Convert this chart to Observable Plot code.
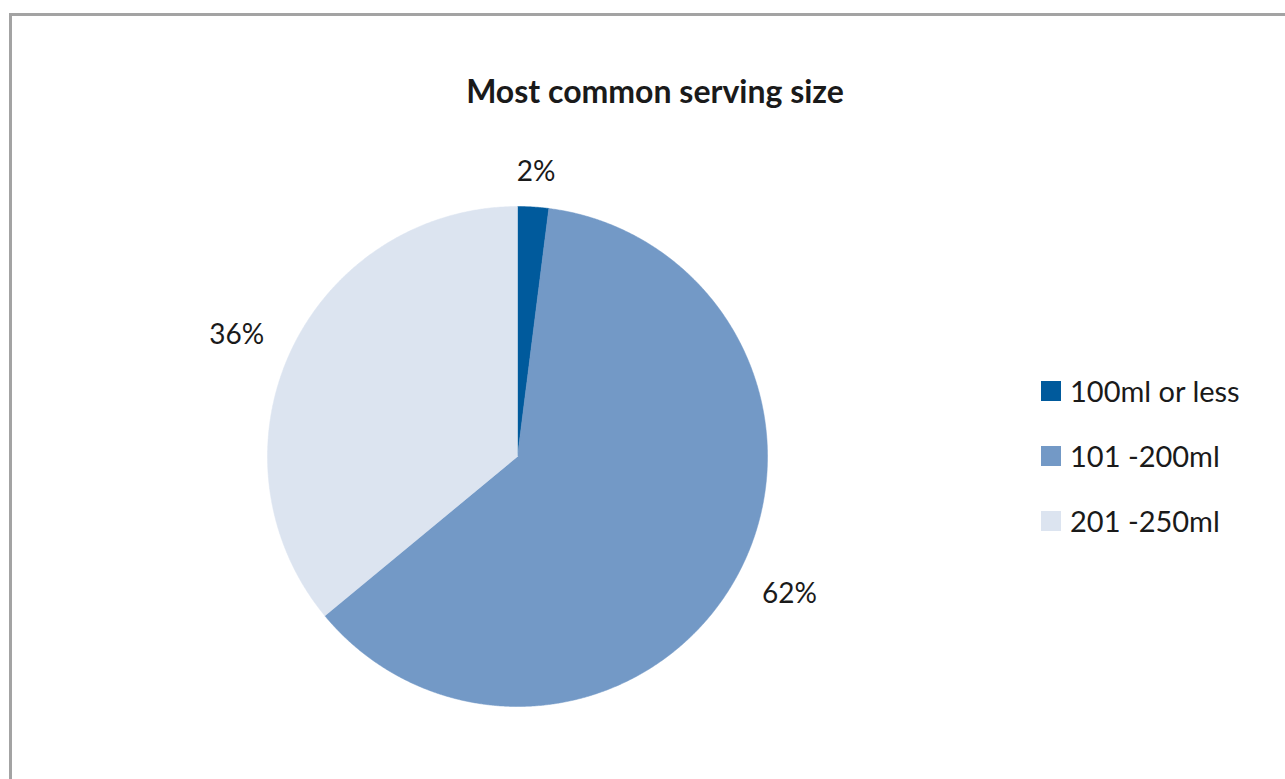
<!DOCTYPE html>
<html>
<head>
<meta charset="utf-8">
<script src="https://cdn.jsdelivr.net/npm/d3@7"></script>
<script src="https://cdn.jsdelivr.net/npm/@observablehq/plot@0.6"></script>
<style>
  html, body { margin: 0; padding: 0; background: #fff; }
  #wrap { position: relative; width: 1285px; height: 779px; overflow: hidden; font-family: Lato, "Open Sans", sans-serif; color: #1a1a1a; }
  #frame { position: absolute; left: 9px; top: 13px; width: 1400px; height: 900px; border-left: 3px solid #a3a3a3; border-top: 3px solid #a3a3a3; box-sizing: border-box; }
  #title { position: absolute; left: 0; width: 1310px; top: 75px; line-height: 32px; text-align: center; font-weight: bold; font-size: 32px; }
  #chart { position: absolute; left: 0; top: 0; }
  #legend { position: absolute; left: 1041px; top: 358px; }
  .item { display: flex; align-items: center; height: 65px; font-size: 29px; }
  .sw { width: 20px; height: 20px; margin-right: 9px; }
</style>
</head>
<body>
<div id="wrap">
  <div id="frame"></div>
  <div id="chart"></div>
  <div id="title">Most common serving size</div>
  <div id="legend"></div>
</div>
<script>
const categories = ["100ml or less", "101 -200ml", "201 -250ml"];
const values = [2, 62, 36];
const colors = ["#005a9c", "#7399c6", "#dce4f0"];
const labels = ["2%", "62%", "36%"];

const slices = d3.pie().sort(null).value(d => d.value)(
  categories.map((c, i) => ({category: c, value: values[i], label: labels[i]}))
);

// polygon outline of each slice in unit coordinates (angle 0 at top, clockwise)
const pts = [];
slices.forEach(s => {
  const c = s.data.category;
  pts.push({category: c, x: 0, y: 0});
  const n = Math.max(4, Math.ceil((s.endAngle - s.startAngle) / 0.005));
  for (let k = 0; k <= n; k++) {
    const a = s.startAngle + (s.endAngle - s.startAngle) * k / n;
    pts.push({category: c, x: Math.sin(a), y: Math.cos(a)});
  }
  pts.push({category: c, x: 0, y: 0});
});

const R = 250;
const labelPts = slices.map(s => {
  const a = (s.startAngle + s.endAngle) / 2;
  const dx = Math.sin(a), dy = Math.cos(a);
  const hw = s.data.label.length * 13 / R, hh = 14 / R;
  const r = 1.085;
  return {label: s.data.label, x: dx * r + dx * hw, y: dy * r + dy * hh};
});

const plot = Plot.plot({
  width: 1285,
  height: 779,
  marginLeft: 267,
  marginRight: 1285 - 767,
  marginTop: 206,
  marginBottom: 779 - 706,
  x: {domain: [-1, 1], axis: null},
  y: {domain: [-1, 1], axis: null},
  color: {domain: categories, range: colors},
  style: {background: "transparent", overflow: "visible"},
  marks: [
    Plot.line(pts, {x: "x", y: "y", z: "category", fill: "category", stroke: "category", strokeWidth: 0.5, curve: "linear-closed"}),
    Plot.text(labelPts, {x: "x", y: "y", text: "label", fontSize: 28, fill: "#1a1a1a", fontFamily: "Lato, sans-serif"})
  ]
});
document.getElementById("chart").appendChild(plot);

const legend = document.getElementById("legend");
categories.forEach((c, i) => {
  const row = document.createElement("div");
  row.className = "item";
  const sw = document.createElement("div");
  sw.className = "sw";
  sw.style.background = colors[i];
  const t = document.createElement("span");
  t.textContent = c;
  row.appendChild(sw);
  row.appendChild(t);
  legend.appendChild(row);
});
</script>
</body>
</html>
